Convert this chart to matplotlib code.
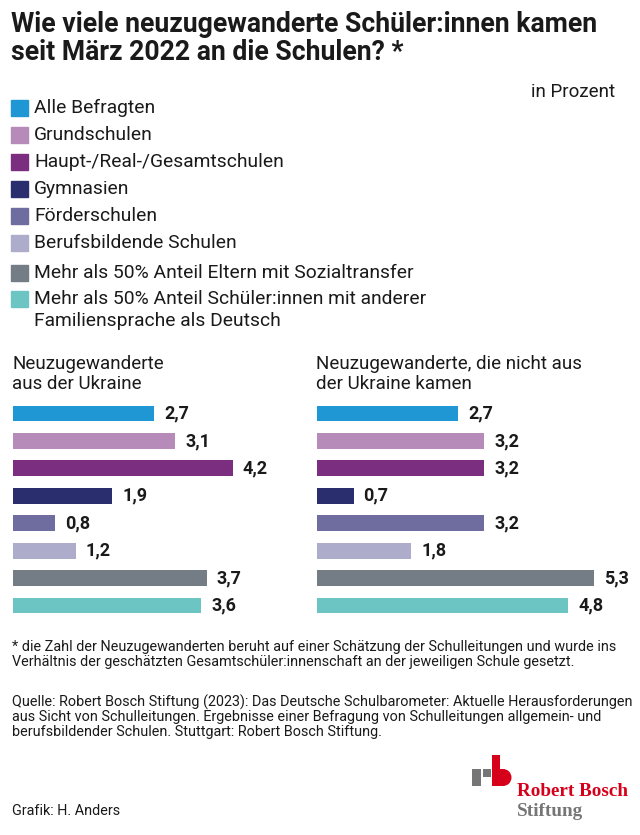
import matplotlib.pyplot as plt
from matplotlib.patches import Rectangle, Wedge

plt.rcParams['font.family'] = ['Roboto', 'DejaVu Sans']

categories = [
    "Alle Befragten",
    "Grundschulen",
    "Haupt-/Real-/Gesamtschulen",
    "Gymnasien",
    "Förderschulen",
    "Berufsbildende Schulen",
    "Mehr als 50% Anteil Eltern mit Sozialtransfer",
    "Mehr als 50% Anteil Schüler:innen mit anderer\nFamiliensprache als Deutsch",
]
ukraine = [2.7, 3.1, 4.2, 1.9, 0.8, 1.2, 3.7, 3.6]
andere = [2.7, 3.2, 3.2, 0.7, 3.2, 1.8, 5.3, 4.8]
colors = ["#1f97d4", "#b68bba", "#7b2d7f", "#2b2e6e",
          "#6f6d9f", "#adaccb", "#747c86", "#6cc5c3"]

W, H = 640, 835
fig = plt.figure(figsize=(6.4, 8.35), dpi=100)


def fx(x):
    return x / W


def fy(y):
    return 1 - y / H


txt = "#1a1a1a"


def lines(x, ys, text, **kw):
    # one fig.text per line, so line spacing is exact
    for y, t in zip(ys, text.split("\n")):
        fig.text(fx(x), fy(y), t, ha='left', va='center', color=txt, **kw)


# title
lines(11, [24, 53], "Wie viele neuzugewanderte Schüler:innen kamen\nseit März 2022 an die Schulen? *",
      fontsize=19.2, fontweight='bold')
fig.text(fx(615), fy(92), "in Prozent", fontsize=13.5, color=txt, ha='right', va='center')

# legend
leg_y = [108, 135, 162, 189, 216, 243, 273, 299]
for c, lab, y in zip(colors, categories, leg_y):
    fig.patches.append(Rectangle((fx(11), fy(y + 8)), 17 / W, 16 / H,
                                 transform=fig.transFigure, color=c))
    lines(34, [y, y + 22], lab, fontsize=13.9)

# panels
panels = [(13, "Neuzugewanderte\naus der Ukraine", ukraine),
          (317, "Neuzugewanderte, die nicht aus\nder Ukraine kamen", andere)]
for left, title, vals in panels:
    lines(left - 1, [364, 384], title, fontsize=13.5)
    ax = fig.add_axes([fx(left), fy(619.2), 293 / W, 219.4 / H])
    ax.barh(range(len(vals)), vals, height=0.58, color=colors)
    ax.set_xlim(0, 5.6)
    ax.set_ylim(len(vals) - 0.5, -0.5)
    ax.axis('off')
    for i, v in enumerate(vals):
        ax.text(v + 0.19, i, f"{v:.1f}".replace('.', ','), fontsize=13, fontweight='bold',
                color=txt, va='center', ha='left')

# notes
lines(12, [647, 662], "* die Zahl der Neuzugewanderten beruht auf einer Schätzung der Schulleitungen und wurde ins\n"
      "Verhältnis der geschätzten Gesamtschüler:innenschaft an der jeweiligen Schule gesetzt.", fontsize=10.4)
lines(12, [702, 717, 732], "Quelle: Robert Bosch Stiftung (2023): Das Deutsche Schulbarometer: Aktuelle Herausforderungen\n"
      "aus Sicht von Schulleitungen. Ergebnisse einer Befragung von Schulleitungen allgemein- und\n"
      "berufsbildender Schulen. Stuttgart: Robert Bosch Stiftung.", fontsize=10.4)
lines(12, [811], "Grafik: H. Anders", fontsize=10.4)

# logo
red = "#d7001b"
grey = "#767676"
lax = fig.add_axes([fx(468), fy(790), 50 / W, 38 / H])
lax.set_xlim(468, 518)
lax.set_ylim(790, 752)
lax.axis('off')
lax.add_patch(Rectangle((472, 769), 9, 17, color=grey, lw=0))
lax.add_patch(Rectangle((483, 769), 8, 8, color=grey, lw=0))
lax.add_patch(Rectangle((492, 755), 8, 31, color=red, lw=0))
lax.add_patch(Rectangle((499.5, 769), 3.5, 17, color=red, lw=0))
lax.add_patch(Wedge((503, 777.5), 8.5, -90, 90, color=red, lw=0))
fig.text(fx(517), fy(792), "Robert Bosch", family='Liberation Serif', fontweight='bold',
         fontsize=13.8, color=red, ha='left', va='center')
fig.text(fx(517), fy(811), "Stiftung", family='Liberation Serif', fontweight='bold',
         fontsize=13.8, color=grey, ha='left', va='center')

fig.savefig("out.png", dpi=100, facecolor='white')
